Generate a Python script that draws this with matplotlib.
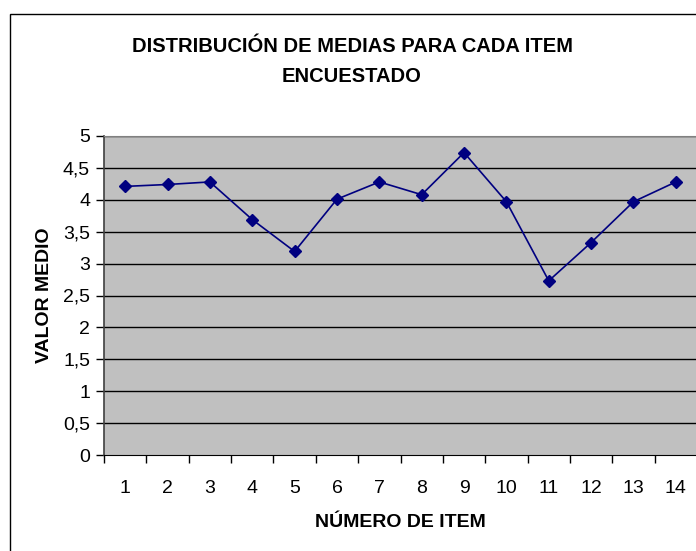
import numpy as np
import matplotlib
matplotlib.use("Agg")
import matplotlib.pyplot as plt
from matplotlib.patches import Rectangle

items = [1, 2, 3, 4, 5, 6, 7, 8, 9, 10, 11, 12, 13, 14]
medias = [4.21, 4.24, 4.28, 3.69, 3.19, 4.01, 4.28, 4.08, 4.74, 3.97, 2.73, 3.33, 3.97, 4.28]
yticks = [0, 0.5, 1, 1.5, 2, 2.5, 3, 3.5, 4, 4.5, 5]
ylabels = ["0", "0,5", "1", "1,5", "2", "2,5", "3", "3,5", "4", "4,5", "5"]

plt.rcParams['font.family'] = ['Liberation Sans', 'DejaVu Sans']

W, H = 696, 551
fig = plt.figure(figsize=(W / 100, H / 100), dpi=100)

# chart border (cropped on right and bottom)
fig.patches.append(Rectangle((9.5 / W, -0.1), 2, 1 - 13.5 / H + 0.1,
                             transform=fig.transFigure, fill=False,
                             edgecolor='black', linewidth=1.0))

left, right, top, bottom = 104, 697, 136, 455
ax = fig.add_axes([left / W, 1 - bottom / H, (right - left) / W, (bottom - top) / H])
ax.set_facecolor('#c0c0c0')

for v in yticks[1:]:
    ax.axhline(v, color='black', linewidth=1.0, zorder=1)

ax.plot(items, medias, color='#000080', linewidth=1.2, marker='D',
        markersize=6, markerfacecolor='#000080', markeredgecolor='#000080', zorder=3)

ax.set_xlim(0.5, 14.5)
ax.set_ylim(0, 5)
ax.set_yticks(yticks)
ax.set_yticklabels(ylabels)
ax.set_xticks(items)
ax.set_xticklabels([str(i) for i in items])
ax.set_xticks(np.arange(0.5, 15, 1), minor=True)
ax.tick_params(axis='x', which='major', length=0, pad=18, labelsize=14)
ax.tick_params(axis='x', which='minor', length=6, width=1, color='black', direction='out')
ax.tick_params(axis='y', which='major', length=6, width=1, pad=4, labelsize=14, direction='out')

for s in ['top', 'right']:
    ax.spines[s].set_color('#808080')
ax.spines['left'].set_color('#404040')
ax.spines['bottom'].set_color('black')
ax.spines['left'].set_linewidth(1.2)

ax.set_xlabel('NÚMERO DE ITEM', fontsize=14, fontweight='bold', labelpad=12)
ax.set_ylabel('VALOR MEDIO', fontsize=14, fontweight='bold', labelpad=7)

fig.text(352 / W, 1 - 46 / H, 'DISTRIBUCIÓN DE MEDIAS PARA CADA ITEM', ha='center',
         va='center', fontsize=14.5, fontweight='bold')
fig.text(352 / W, 1 - 76 / H, 'ENCUESTADO', ha='center', va='center',
         fontsize=14.5, fontweight='bold')

fig.savefig('out.png', dpi=100)
